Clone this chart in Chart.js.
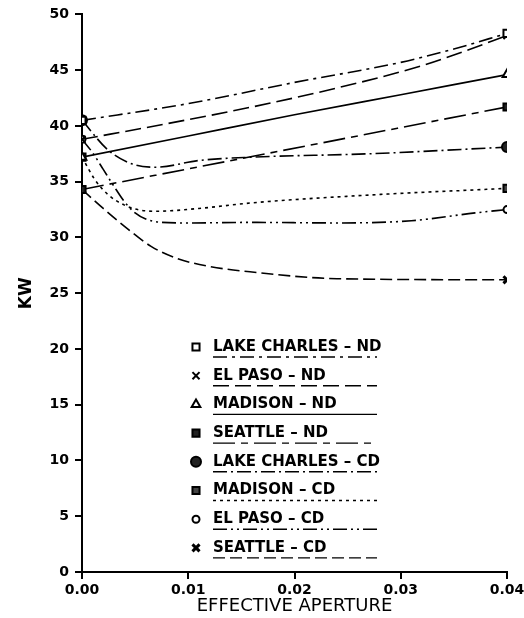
<!DOCTYPE html>
<html>
<head>
<meta charset="utf-8">
<script src="https://cdn.jsdelivr.net/npm/chart.js"></script>
<style>
  body { margin: 0; background: #fff; }
</style>
</head>
<body>
<canvas id="kw" width="524" height="618"></canvas>
<script>
// values (x = effective aperture, y = KW)
const lcNdX = [0, 0.01, 0.02, 0.03, 0.035, 0.04];
const lcNdY = [40.5, 42.0, 43.9, 45.7, 46.9, 48.3];
const epNdX = [0, 0.008, 0.016, 0.024, 0.032, 0.036, 0.04];
const epNdY = [38.8, 40.2, 41.7, 43.4, 45.4, 46.7, 48.1];
const maNdX = [0, 0.01, 0.02, 0.03, 0.04];
const maNdY = [37.2, 39.1, 41.0, 42.8, 44.6];
const seNdX = [0, 0.04];
const seNdY = [34.3, 41.7];
const lcCdX = [0, 0.0025, 0.005, 0.007, 0.011, 0.016, 0.027, 0.04];
const lcCdY = [40.5, 37.8, 36.5, 36.3, 36.9, 37.2, 37.5, 38.1];
const maCdX = [0, 0.0012, 0.0025, 0.004, 0.0055, 0.007, 0.011, 0.016, 0.027, 0.04];
const maCdY = [37.2, 35.2, 33.8, 32.9, 32.45, 32.35, 32.6, 33.1, 33.8, 34.4];
const epCdX = [0, 0.001, 0.002, 0.003, 0.004, 0.005, 0.006, 0.0075, 0.01, 0.016, 0.024, 0.031, 0.037, 0.04];
const epCdY = [38.8, 37.6, 36.1, 34.6, 33.2, 32.2, 31.65, 31.35, 31.3, 31.35, 31.3, 31.5, 32.2, 32.5];
const seCdX = [0, 0.002, 0.004, 0.0065, 0.009, 0.012, 0.016, 0.024, 0.04];
const seCdY = [34.3, 32.6, 31.0, 29.2, 28.1, 27.4, 26.9, 26.3, 26.2];

const seriesNames = ['LAKE CHARLES \u2013 ND', 'EL PASO \u2013 ND', 'MADISON \u2013 ND', 'SEATTLE \u2013 ND',
  'LAKE CHARLES \u2013 CD', 'MADISON \u2013 CD', 'EL PASO \u2013 CD', 'SEATTLE \u2013 CD'];
const xTicks = [0, 0.01, 0.02, 0.03, 0.04];

function pts(xs, ys) {
  return xs.map((x, i) => ({ x: x, y: ys[i] }));
}

function line(i, xs, ys, dash, style, r, fill, bw) {
  return {
    label: seriesNames[i],
    data: pts(xs, ys),
    showLine: true,
    borderColor: '#000',
    borderWidth: 1.6,
    borderDash: dash,
    cubicInterpolationMode: 'monotone',
    pointStyle: style,
    pointRadius: c => (c.dataIndex === 0 || c.dataIndex === xs.length - 1) ? r : 0,
    pointBackgroundColor: fill,
    pointBorderColor: '#000',
    pointBorderWidth: bw,
    legendRadius: r,
    legendFill: fill,
    legendBw: bw
  };
}

const datasets = [
  line(0, lcNdX, lcNdY, [14, 5, 3, 5], 'rect', 5, '#fff', 2),
  line(1, epNdX, epNdY, [16, 6], 'crossRot', 5, '#000', 2),
  line(2, maNdX, maNdY, [], 'triangle', 5, '#fff', 2),
  line(3, seNdX, seNdY, [22, 6, 7, 6], 'rect', 5, '#222', 2),
  line(4, lcCdX, lcCdY, [14, 4, 2, 4], 'circle', 5, '#222', 2),
  line(5, maCdX, maCdY, [3, 4], 'rect', 5, '#444', 2),
  line(6, epCdX, epCdY, [14, 4, 2, 4, 2, 4], 'circle', 3.5, '#fff', 2),
  line(7, seCdX, seCdY, [12, 5], 'crossRot', 5, '#000', 3)
];

// legend drawn inside the plot, each label underlined with its line style
const insideLegend = {
  id: 'insideLegend',
  afterDraw(chart) {
    const ctx = chart.ctx;
    ctx.save();
    ctx.font = 'bold 15px "DejaVu Sans"';
    ctx.textBaseline = 'middle';
    chart.data.datasets.forEach((ds, i) => {
      const y = 347 + i * 28.7;
      ctx.setLineDash([]);
      ctx.strokeStyle = '#000';
      ctx.fillStyle = ds.legendFill;
      ctx.lineWidth = ds.legendBw;
      Chart.helpers.drawPoint(ctx, { pointStyle: ds.pointStyle, radius: ds.legendRadius, rotation: 0, borderWidth: ds.legendBw }, 196, y);
      ctx.fillStyle = '#000';
      ctx.fillText(ds.label, 213, y);
      ctx.lineWidth = 1.4;
      ctx.setLineDash(ds.borderDash);
      ctx.beginPath();
      ctx.moveTo(213, y + 10);
      ctx.lineTo(377, y + 10);
      ctx.stroke();
    });
    ctx.restore();
  }
};

new Chart(document.getElementById('kw'), {
  type: 'scatter',
  data: { datasets: datasets },
  options: {
    responsive: false,
    animation: false,
    layout: { padding: { left: 16, right: 0, top: 9, bottom: 1 } },
    plugins: { legend: { display: false }, tooltip: { enabled: false } },
    scales: {
      x: {
        type: 'linear',
        min: 0,
        max: 0.04,
        afterBuildTicks: s => { s.ticks = xTicks.map(v => ({ value: v })); },
        afterFit: s => { s.height = 45; s.paddingRight = 17; },
        border: { color: '#000', width: 2 },
        grid: { drawOnChartArea: false, tickLength: 7, color: '#000', lineWidth: 2 },
        ticks: {
          color: '#000',
          padding: 3,
          font: { family: 'DejaVu Sans', size: 14, weight: 'bold' },
          callback: v => v.toFixed(2)
        },
        title: {
          display: true,
          text: 'EFFECTIVE APERTURE',
          color: '#000',
          padding: 0,
          font: { family: 'DejaVu Sans', size: 18 }
        }
      },
      y: {
        min: 0,
        max: 50,
        afterFit: s => { s.width = 66; },
        border: { color: '#000', width: 2 },
        grid: { drawOnChartArea: false, tickLength: 7, color: '#000', lineWidth: 2 },
        ticks: {
          stepSize: 5,
          color: '#000',
          padding: 6,
          font: { family: 'DejaVu Sans', size: 14, weight: 'bold' }
        },
        title: {
          display: true,
          text: 'KW',
          color: '#000',
          padding: 0,
          font: { family: 'DejaVu Sans', size: 17, weight: 'bold' }
        }
      }
    }
  },
  plugins: [insideLegend]
});
</script>
</body>
</html>
